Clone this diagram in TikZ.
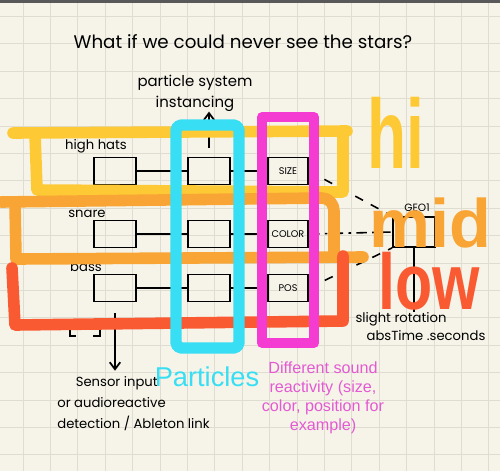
\documentclass[tikz,border=0pt]{standalone}
\usepackage{fontspec}
\newfontfamily\handfont{Poppins}
\newfontfamily\printfont{Liberation Sans}
\usetikzlibrary{arrows.meta,positioning,calc}

\definecolor{paper}{HTML}{F6F4E9}
\definecolor{gridgray}{HTML}{DFDDD2}
\definecolor{hiyellow}{HTML}{FDC935}
\definecolor{midorange}{HTML}{F9A535}
\definecolor{lowred}{HTML}{FA5A32}
\definecolor{partcyan}{HTML}{38DEF3}
\definecolor{reactpink}{HTML}{F43BD2}
\definecolor{notepink}{HTML}{E35AD2}

\tikzset{
  hand/.style={font=\handfont\fontsize{7.5}{12}\selectfont, inner sep=0pt},
  smallbox/.style={draw, line width=1.1pt, minimum width=0.84cm, minimum height=0.54cm, inner sep=0pt},
  marker/.style={line width=6.6pt, line cap=round, line join=round},
  dashlink/.style={line width=0.9pt, dash pattern=on 5pt off 5pt},
  gridline/.style={gridgray, line width=0.5pt},
}

\begin{document}
\begin{tikzpicture}[x=0.02cm, y=-0.02cm, >={Straight Barb[length=4pt,width=6pt]}]
  \useasboundingbox (0,0) rectangle (500,471);
  % paper
  \fill[paper] (0,0) rectangle (500,471);
  \foreach \k in {0,...,17}
    \draw[gridline] (23+27.4*\k,0) -- (23+27.4*\k,471);
  \foreach \k in {0,...,16}
    \draw[gridline] (0,16.5+27.4*\k) -- (500,16.5+27.4*\k);
  \fill[black!65] (0,0) rectangle (500,3);

  \node[hand, font=\handfont\fontsize{10.4}{12}\selectfont] (title) at (243,42) {What if we could never see the stars?};
  \node[hand, align=center, font=\handfont\fontsize{8.5}{12}\selectfont] (inst) at (195,93) {particle system\\instancing};

  % three sound rows
  \foreach \row/\lab/\lx/\ly/\prop/\y in {1/high hats/96/146/SIZE/171, 2/snare/87/214/COLOR/234, 3/bass/86/267/POS/288} {
    \node[hand] (lab\row) at (\lx,\ly) {\lab};
    \node[smallbox] (in\row) at (115,\y) {};
    \node[smallbox] (ps\row) at (209,\y) {};
    \node[smallbox, minimum width=0.8cm, font=\handfont\fontsize{5.5}{6}\selectfont] (fx\row) at (288,\y) {\prop};
    \draw[line width=1.1pt] (in\row) -- (ps\row);
    \draw[line width=1.1pt] (ps\row) -- (fx\row);
  }
  \draw[->, line width=1pt, shorten <=5pt] (ps1.north) -- (ps1.north |- inst.south);

  \node[hand, align=left, anchor=north west] (sensor) at (57,376) {\hspace*{1.4em}Sensor input\\or audioreactive\\detection / Ableton link};
  \draw[->, line width=1pt, shorten <=6pt, shorten >=3pt] (in3.south) -- (in3.south |- sensor.north);
  \draw[line width=1pt] (70,327) -- (70,336) -- (76,336);
  \draw[line width=1pt] (93,336) -- (100,336) -- (100,327);

  % geometry output
  \node[draw, line width=1pt, minimum width=0.84cm, minimum height=0.6cm] (geo) at (414,232) {};
  \node[hand, font=\handfont\fontsize{6}{7}\selectfont] (geolbl) at (417,208) {GEO1};
  \node[hand] (rot) at (401,319) {slight rotation};
  \node[hand] (abs) at (426,336) {absTime .seconds};
  \draw[line width=1pt] (geo.south) -- (geo.south |- rot.north);
  \draw[dashlink] (fx1.east) -- (geo.north west);
  \draw[dashlink, dash pattern=on 6pt off 3pt on 1.5pt off 3pt] (fx2.east) -- (geo.west);
  \draw[dashlink] (fx3.east) -- (geo.south west);

  % hi / mid / low bands
  \draw[marker, hiyellow] (13,133) -- (347,131);
  \draw[marker, hiyellow] (35,134) -- (37,190) -- (343,192) -- (343,134);
  \draw[marker, midorange] (1,202) -- (322,198) to[out=0,in=90] (334,211) -- (334,257);
  \draw[marker, midorange] (15,202) -- (16,259) -- (363,257);
  \draw[marker, lowred] (12,268) -- (15,325) -- (343,321) -- (343,256);

  \draw[marker, partcyan, line width=6.5pt, rounded corners=3pt] (176,125) rectangle (239,348);
  \draw[marker, reactpink, line width=5.8pt] (262,117) rectangle (314,343);

  \node[font=\printfont\fontsize{15.5}{18}\selectfont, text=partcyan, inner sep=0pt] (part) at (207,377) {Particles};
  \node[font=\printfont\fontsize{9.2}{10.8}\selectfont, text=notepink, align=center, inner sep=0pt] (react) at (323,398) {Different sound\\reactivity (size,\\color, position for\\example)};

  \node[anchor=base, text=hiyellow, font=\printfont\bfseries\fontsize{56}{60}\selectfont, inner sep=0pt, text depth=0pt] (hi) at (396,168) {\scalebox{0.65}[1]{hi}};
  \node[anchor=base, text=midorange, font=\printfont\bfseries\fontsize{39}{42}\selectfont, inner sep=0pt, text depth=0pt] (mid) at (430,247) {mid};
  \node[anchor=base, text=lowred, font=\printfont\bfseries\fontsize{45}{48}\selectfont, inner sep=0pt, text depth=0pt] (low) at (429,309) {\scalebox{0.77}[1]{low}};
\end{tikzpicture}
\end{document}
